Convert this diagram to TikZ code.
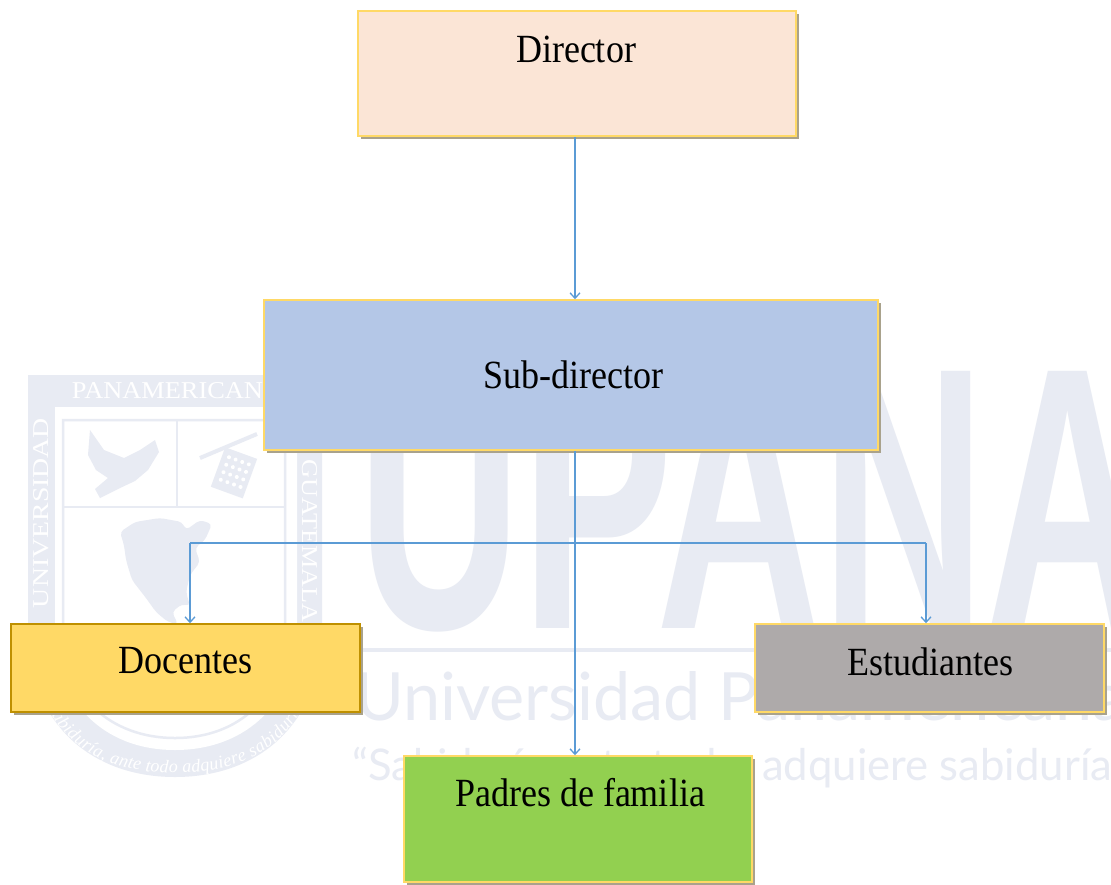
\documentclass[tikz,border=0pt]{standalone}
\usepackage{fontspec}
\setmainfont{Liberation Serif}
\newfontfamily\wmsans{Lato}
\newfontfamily\wmbold{Liberation Sans}
\usetikzlibrary{arrows.meta,shadows,decorations.text}
\definecolor{wm}{HTML}{E8EBF3}
\definecolor{dirc}{HTML}{FBE5D6}
\definecolor{subc}{HTML}{B4C7E7}
\definecolor{docc}{HTML}{FFD966}
\definecolor{estc}{HTML}{AEAAAA}
\definecolor{padc}{HTML}{92D050}
\definecolor{bdy}{HTML}{FFD966}
\definecolor{bdg}{HTML}{BF9000}
\definecolor{shd}{HTML}{A9A28C}
\definecolor{arrc}{HTML}{5B9BD5}
\newcommand\hsq[1]{\scalebox{0.9}[1]{#1}}
\begin{document}
\begin{tikzpicture}[x=1pt,y=-1pt,
  box/.style={draw=#1, line width=1.5pt, inner sep=0pt,
    drop shadow={shadow xshift=3pt, shadow yshift=-3pt, fill=shd, opacity=1}},
  lbl/.style={anchor=base, inner sep=0pt, font=\fontsize{40}{44}\selectfont},
  wmtext/.style={inner sep=0pt, text=wm},
  bandtext/.style={inner sep=0pt, text=white},
  conn/.style={draw=arrc, line width=1.3pt},
  arr/.style={conn, -{Straight Barb[length=5.5pt,width=10pt]}}]
\useasboundingbox (0,0) rectangle (1111,884);
\fill[white] (0,0) rectangle (1111,884);
\clip (0,0) rectangle (1111,884);

% ---------- watermark: shield ----------
\fill[wm] (28,375) -- (322,375) -- (322,630) .. controls (322,720) and (262,777) .. (175,777)
  .. controls (88,777) and (28,720) .. (28,630) -- cycle;
\fill[white] (55,407) -- (297,407) -- (297,630) .. controls (297,700) and (248,750) .. (175,750)
  .. controls (102,750) and (55,700) .. (55,630) -- cycle;
\draw[wm, line width=2.5pt] (63,420) -- (285,420) -- (285,630) .. controls (285,695) and (240,738) .. (175,738)
  .. controls (110,738) and (63,695) .. (63,630) -- cycle;
\draw[wm, line width=2.5pt] (177,420) -- (177,507);
\draw[wm, line width=2.5pt] (63,507) -- (285,507);
% dove
\fill[wm] (90,430) -- (104,450) -- (124,458) -- (140,450) -- (155,440) -- (159,452) -- (148,470)
  -- (135,481) -- (118,489) -- (100,498) -- (95,489) -- (108,478) -- (96,470) -- (88,455) -- cycle;
% abacus
\begin{scope}[shift={(235,470)}, rotate=-20]
  \fill[wm] (-17,-18) rectangle (17,24);
  \foreach \i in {-10,-3,4,11}
    \foreach \j in {-10,-2,6,14}
      \fill[white] (\i,\j) circle (2pt);
\end{scope}
\draw[wm, line width=4pt] (200,458) -- (257,434);
% map
\fill[wm, rounded corners=4pt] (120,532) -- (135,522) -- (160,518) -- (182,522) -- (186,530)
  -- (200,520) -- (212,524) -- (205,540) -- (195,548) -- (200,562) -- (190,575) -- (186,592)
  -- (190,606) -- (182,604) -- (172,612) -- (178,624) -- (168,622) -- (156,612) -- (146,598)
  -- (132,580) -- (126,560) -- (124,545) -- cycle;
% band texts
\node[bandtext] (wmpan) at (177,391) {\resizebox{210pt}{16pt}{PANAMERICANA}};
\node[bandtext, rotate=90] (wmuni) at (41.5,513) {\resizebox{190pt}{15pt}{UNIVERSIDAD}};
\node[bandtext, rotate=-90] (wmgua) at (309.5,541) {\resizebox{163pt}{15pt}{GUATEMALA}};
\path[decorate, decoration={text along path, text align=center, raise=-7pt,
  text={|\color{white}\itshape\fontsize{18}{18}\selectfont|Sabiduría, ante todo adquiere sabiduría}}]
  (38,640) .. controls (42,738) and (108,766) .. (175,766) .. controls (242,766) and (308,738) .. (312,640);

% ---------- watermark: wordmark ----------
\node[wmtext, anchor=south west] (wmbig) at (357,632) {\resizebox{793pt}{257pt}{\wmbold\bfseries UPANA}};
\fill[wm] (357,648) rectangle (1111,652);
\node[wmtext, anchor=base west] (wmname) at (355,720) {\resizebox{770pt}{!}{\wmsans Universidad Panamericana}};
\node[wmtext, anchor=base west] (wmmotto) at (352,780) {\resizebox{775pt}{!}{\wmsans “Sabiduría ante todo, adquiere sabiduría”}};

% ---------- boxes ----------
\node[box=bdy, fill=dirc, minimum width=438pt, minimum height=125pt] (dir) at (577,73.5) {};
\node[box=bdy, fill=subc, minimum width=614pt, minimum height=150pt] (sub) at (571,375) {};
\node[box=bdg, fill=docc, minimum width=349pt, minimum height=88pt] (doc) at (185.5,668) {};
\node[box=bdy, fill=estc, minimum width=349pt, minimum height=88pt] (est) at (929.5,668) {};
\node[box=bdy, fill=padc, minimum width=348pt, minimum height=126pt] (pad) at (578,819) {};

\node[lbl] (dirt) at (576,62) {\hsq{Director}};
\node[lbl] (subt) at (573,388) {\hsq{Sub-director}};
\node[lbl] (doct) at (185.5,673) {\hsq{Docentes}};
\node[lbl] (estt) at (930,675) {\hsq{Estudiantes}};
\node[lbl] (padt) at (580,806) {\hsq{Padres de familia}};

% ---------- connectors ----------
\coordinate (cx) at (575,0);
\coordinate (jl) at (190,543);
\coordinate (jr) at (926,543);
\draw[arr] (cx |- dir.south) -- (cx |- sub.north);
\draw[arr] (cx |- sub.south) -- (cx |- pad.north);
\draw[conn] (jl) -- (jr);
\draw[arr] (jl) -- (jl |- doc.north);
\draw[arr] (jr) -- (jr |- est.north);
\end{tikzpicture}
\end{document}
